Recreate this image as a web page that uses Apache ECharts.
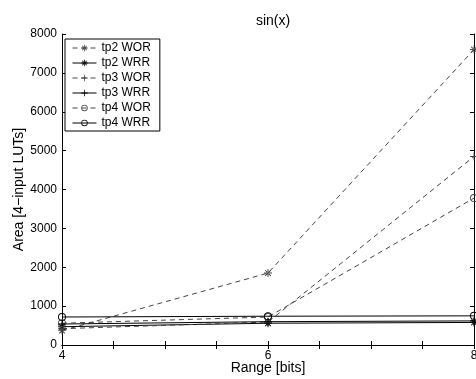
<!DOCTYPE html>
<html><head><meta charset="utf-8">
<script src="https://cdn.jsdelivr.net/npm/echarts@6/dist/echarts.min.js"></script>
<style>html,body{margin:0;padding:0;background:#fff}#c{width:476px;height:379px}</style>
</head><body><div id="c"></div>
<script>
var xValues = [4, 6, 8];
var seriesNames = ['tp2 WOR', 'tp2 WRR', 'tp3 WOR', 'tp3 WRR', 'tp4 WOR', 'tp4 WRR'];
var tp2WOR = [370, 1850, 7600];
var tp2WRR = [470, 560, 580];
var tp3WOR = [420, 590, 4850];
var tp3WRR = [540, 600, 620];
var tp4WOR = [560, 720, 3780];
var tp4WRR = [720, 740, 750];
var xTickLabels = ['4', '6', '8'];
var yTickLabels = ['0','1000','2000','3000','4000','5000','6000','7000','8000'];

var ASTER = 'path://M-0.6,-5 h1.2 v10 h-1.2 Z M-5,-0.6 h10 v1.2 h-10 Z M-3.96,-3.11 L3.11,3.96 L3.96,3.11 L-3.11,-3.96 Z M3.96,-3.11 L-3.11,3.96 L-3.96,3.11 L3.11,-3.96 Z';
var PLUS = 'path://M-0.6,-5 h1.2 v10 h-1.2 Z M-5,-0.6 h10 v1.2 h-10 Z';
var RING = 'path://M0,-5 A5,5 0 1,1 0,5 A5,5 0 1,1 0,-5 Z M0,-3.9 A3.9,3.9 0 1,0 0,3.9 A3.9,3.9 0 1,0 0,-3.9 Z';
var allData = [tp2WOR, tp2WRR, tp3WOR, tp3WRR, tp4WOR, tp4WRR];
var symbols = [ASTER, ASTER, PLUS, PLUS, RING, RING];
var dashed = [true, false, true, false, true, false];

var series = seriesNames.map(function (n, i) {
  var col = dashed[i] ? '#444' : '#000';
  return {
    name: n, type: 'line',
    data: xValues.map(function (x, j) { return [x, allData[i][j]]; }),
    symbol: symbols[i], symbolSize: 8,
    showAllSymbol: true,
    lineStyle: { color: col, width: 1, type: dashed[i] ? [5, 4] : 'solid' },
    itemStyle: { color: col, borderWidth: 0 },
    emphasis: { disabled: true },
    animation: false
  };
});

var chart = echarts.init(document.getElementById('c'), null, { renderer: 'canvas' });
var axisCommon = {
  axisLine: { show: true, lineStyle: { color: '#000', width: 1 } },
  axisTick: { show: true, inside: true, length: 4, lineStyle: { color: '#000' } },
  splitLine: { show: false }
};
chart.setOption({
  animation: false,
  backgroundColor: '#fff',
  title: { text: 'sin(x)', left: 268, top: 9, textAlign: 'center',
    textStyle: { fontFamily: 'Liberation Sans', fontSize: 14, fontWeight: 'normal', color: '#000' } },
  grid: { left: 62, top: 34, right: 2, bottom: 34, containLabel: false, outerBoundsMode: 'none' },
  legend: {
    left: 65, top: 39, orient: 'vertical', itemWidth: 24, itemHeight: 8, itemGap: 3,
    padding: [3, 9, 2, 7],
    borderColor: '#000', borderWidth: 1, backgroundColor: '#fff',
    lineStyle: { width: 1 },
    itemStyle: { borderWidth: 0 },
    textStyle: { fontFamily: 'Liberation Sans', fontSize: 12, color: '#000' },
    data: seriesNames
  },
  xAxis: [
    Object.assign({ type: 'value', min: 4, max: 8, interval: 0.5, position: 'bottom',
      name: 'Range [bits]', nameLocation: 'middle', nameGap: 16, nameMoveOverlap: false,
      nameTextStyle: { fontFamily: 'Liberation Sans', fontSize: 14, color: '#000' },
      axisLabel: { fontFamily: 'Liberation Sans', fontSize: 12, color: '#000', margin: 5,
        formatter: function (v) { var s = String(v); return xTickLabels.indexOf(s) >= 0 ? s : ''; } }
    }, axisCommon),
    Object.assign({ type: 'value', min: 4, max: 8, interval: 0.5, position: 'top',
      axisLabel: { show: false } }, axisCommon)
  ],
  yAxis: [
    Object.assign({ type: 'value', min: 0, max: 8000, interval: 1000, position: 'left',
      name: 'Area [4\u2212input LUTs]', nameLocation: 'middle', nameGap: 36, nameMoveOverlap: false,
      nameTextStyle: { fontFamily: 'Liberation Sans', fontSize: 14, color: '#000' },
      axisLabel: { fontFamily: 'Liberation Sans', fontSize: 12, color: '#000', margin: 5,
        formatter: function (v) { return yTickLabels[Math.round(v / 1000)]; } }
    }, axisCommon),
    Object.assign({ type: 'value', min: 0, max: 8000, interval: 1000, position: 'right',
      axisLabel: { show: false } }, axisCommon)
  ],
  series: series
});
</script></body></html>
